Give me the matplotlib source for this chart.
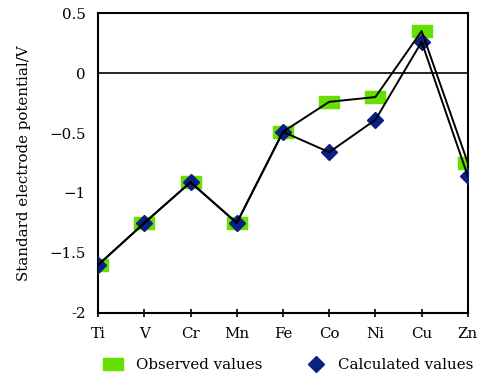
import matplotlib
matplotlib.use("Agg")
import matplotlib.pyplot as plt
from matplotlib.path import Path
from matplotlib.lines import Line2D

elements = ["Ti", "V", "Cr", "Mn", "Fe", "Co", "Ni", "Cu", "Zn"]
observed = [-1.60, -1.25, -0.91, -1.25, -0.49, -0.24, -0.20, 0.35, -0.75]
calculated = [-1.60, -1.25, -0.91, -1.25, -0.49, -0.66, -0.39, 0.26, -0.86]
yticks = [0.5, 0, -0.5, -1, -1.5, -2]
ytick_labels = ["0.5", "0", "\u22120.5", "\u22121", "\u22121.5", "-2"]

plt.rcParams["font.family"] = ["DejaVu Serif"]
fs = 10.8

green = "#66e000"
navy = "#0b1f85"

# flat rectangle marker for the observed values
rect = Path([(-0.8, -0.5), (0.8, -0.5), (0.8, 0.5), (-0.8, 0.5), (-0.8, -0.5)],
            [Path.MOVETO, Path.LINETO, Path.LINETO, Path.LINETO, Path.CLOSEPOLY])

fig = plt.figure(figsize=(4.93, 3.84), dpi=100)
ax = fig.add_axes([0.199, 0.185, 0.75, 0.781])

x = list(range(len(elements)))
ax.plot(x, observed, linestyle="none", marker=rect, markersize=14,
        color=green, zorder=2)
ax.plot(x, calculated, linestyle="none", marker="D", markersize=8.5,
        color=navy, zorder=3)
ax.plot(x, observed, color="black", linewidth=1.4, zorder=4)
ax.plot(x, calculated, color="black", linewidth=1.4, zorder=4)

ax.axhline(0, color="black", linewidth=1.2, zorder=1)

ax.set_xlim(0, len(elements) - 1)
ax.set_ylim(-2, 0.5)
ax.set_xticks(x)
ax.set_xticklabels(elements, fontsize=fs)
ax.set_yticks(yticks)
ax.set_yticklabels(ytick_labels, fontsize=fs)
ax.tick_params(axis="x", direction="inout", length=6, width=1.2, pad=7)
ax.tick_params(axis="y", length=0, pad=9)
for s in ax.spines.values():
    s.set_linewidth(1.5)

ax.set_ylabel("Standard electrode potential/V", fontsize=fs, labelpad=13)

handles = [
    Line2D([], [], linestyle="none", marker=rect, markersize=14, color=green),
    Line2D([], [], linestyle="none", marker="D", markersize=8.5, color=navy),
]
fig.legend(handles, ["Observed values", "Calculated values"], ncol=2,
           loc="center", bbox_to_anchor=(0.58, 0.05), frameon=False,
           fontsize=fs, columnspacing=2.6, handletextpad=0.5)

fig.savefig("out.png", dpi=100)
